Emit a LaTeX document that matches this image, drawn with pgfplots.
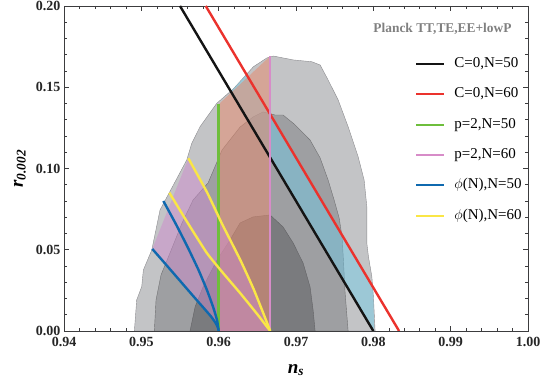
\documentclass[border=0pt]{standalone}
\usepackage{fontspec}
\setmainfont{Liberation Serif}
\usepackage{pgfplots}
\pgfplotsset{compat=1.18}

\definecolor{cOuter}{RGB}{195,196,198}
\definecolor{cMid}{RGB}{158,159,162}
\definecolor{cIn}{RGB}{122,123,126}
\definecolor{cEdge}{RGB}{140,140,143}
\definecolor{cSalmon}{RGB}{228,140,113}
\definecolor{cCyan}{RGB}{110,205,235}
\definecolor{cPurple}{RGB}{205,140,205}
\definecolor{lBlack}{RGB}{20,20,20}
\definecolor{lRed}{RGB}{235,50,45}
\definecolor{lGreen}{RGB}{110,190,60}
\definecolor{lPink}{RGB}{215,140,200}
\definecolor{lBlue}{RGB}{15,105,175}
\definecolor{lYellow}{RGB}{250,230,70}
\definecolor{cAxis}{RGB}{60,60,62}

\begin{document}
\begin{tikzpicture}
\begin{axis}[
  width=464pt, height=325pt, scale only axis,
  xmin=0.94, xmax=1.0, ymin=0, ymax=0.2,
  xtick={0.94,0.95,0.96,0.97,0.98,0.99,1.0},
  xticklabels={\textbf{0.94},\textbf{0.95},\textbf{0.96},\textbf{0.97},\textbf{0.98},\textbf{0.99},\textbf{1.00}},
  ytick={0,0.05,0.1,0.15,0.2},
  yticklabels={\textbf{0.00},\textbf{0.05},\textbf{0.10},\textbf{0.15},\textbf{0.20}},
  minor x tick num=4, minor y tick num=4,
  tick align=inside, major tick length=5pt, minor tick length=3pt,
  axis line style={draw=cAxis, line width=0.8pt},
  tick style={cAxis, line width=0.6pt},
  tick label style={font=\fontsize{14}{15}\selectfont\bfseries, text=black!85},
  xticklabel style={yshift=-2.5pt},
  yticklabel style={xshift=0pt},
  /pgf/number format/assume math mode=true,
  xlabel={\fontsize{19}{20}\selectfont\bfseries\itshape n\textsubscript{s}},
  ylabel={\fontsize{19}{20}\selectfont\bfseries\itshape r\textsubscript{0.002}},
  xlabel style={at={(axis description cs:0.5,-0.12)}, anchor=center},
  ylabel style={at={(axis description cs:-0.095,0.5)}, anchor=center},
  legend cell align=left,
  legend image code/.code={\draw[#1, line width=2pt] (0pt,0pt) -- (28pt,0pt); \path (37pt,0pt);},
  legend style={draw=none, fill=none, at={(rel axis cs:0.7565,0.843)}, anchor=north west,
    font=\fontsize{15}{15}\selectfont, inner sep=0pt, row sep=17.4pt,
    nodes={inner sep=0pt, text height=10pt, text depth=3pt}},
]
% contours
\addplot[fill=cOuter, draw=cEdge, line width=0.4pt, forget plot] coordinates {
(0.94910,0) (0.94940,0.0191) (0.95005,0.0273) (0.95026,0.0375) (0.95135,0.0498)
(0.95242,0.0745) (0.95414,0.0898) (0.95587,0.1052) (0.95652,0.1155) (0.95759,0.1257)
(0.95975,0.1401) (0.96190,0.1490) (0.96449,0.1626) (0.96622,0.1680) (0.96708,0.1692)
(0.96966,0.1668) (0.97204,0.1657) (0.97312,0.1637) (0.97415,0.1545) (0.97545,0.1422)
(0.97674,0.1257) (0.97803,0.1073) (0.97881,0.0929) (0.97916,0.0765) (0.97916,0.0540)
(0.97937,0.0457) (0.97981,0.0334) (0.98001,0.0211) (0.98023,0) (0.94910,0)};
\addplot[fill=cMid, draw=cEdge!80!black, line width=0.4pt, forget plot] coordinates {
(0.95168,0) (0.95190,0.0191) (0.95255,0.0345) (0.95397,0.0511) (0.95527,0.0665)
(0.95669,0.0806) (0.95863,0.0911) (0.96044,0.1114) (0.96277,0.1255) (0.96445,0.1317)
(0.96574,0.1348) (0.96730,0.1329) (0.96833,0.1329) (0.96975,0.1274) (0.97182,0.1175)
(0.97312,0.1065) (0.97415,0.0929) (0.97493,0.0806) (0.97558,0.0695) (0.97596,0.0578)
(0.97613,0.0437) (0.97635,0.0234) (0.97674,0) (0.95168,0)};
\addplot[fill=cIn, draw=cIn!80!black, line width=0.4pt, forget plot] coordinates {
(0.95630,0) (0.95695,0.0148) (0.95798,0.0271) (0.95979,0.0437) (0.96147,0.0560)
(0.96277,0.0665) (0.96445,0.0702) (0.96665,0.0714) (0.96833,0.0640) (0.96963,0.0542)
(0.97092,0.0418) (0.97182,0.0271) (0.97221,0.0129) (0.97247,0) (0.95630,0)};
% shaded model regions
\addplot[fill=cCyan, fill opacity=0.45, draw=none, forget plot] coordinates {
(0.96155,0.1476) (0.96190,0.1490) (0.96360,0.1579) (0.97993,0.0272) (0.98001,0.0211)
(0.98010,0) (0.98,0) (0.96155,0.1476)};
\addplot[fill=cSalmon, fill opacity=0.55, draw=none, forget plot] coordinates {
(0.96,0) (0.96,0.1395) (0.96667,0.1692) (0.96667,0) (0.96,0)};
\addplot[fill=cPurple, fill opacity=0.5, draw=none, forget plot] coordinates {
(0.95142,0.0505) (0.95608,0.1063) (0.9585,0.0853) (0.9604,0.0663) (0.9628,0.0437)
(0.9645,0.0260) (0.9656,0.0130) (0.9663,0.0045) (0.96667,0) (0.96,0)
(0.9599,0.0022) (0.9596,0.0050) (0.9590,0.0090) (0.9580,0.0145) (0.9568,0.0210)
(0.9550,0.0309) (0.9532,0.0408) (0.95142,0.0505)};
% lines
\addplot[lBlack, line width=2.4pt] coordinates {(0.955,0.2) (0.98,0)};
\addlegendentry{C=0,N=50}
\addplot[lRed, line width=2.4pt] coordinates {(0.95833,0.2) (0.98333,0)};
\addlegendentry{C=0,N=60}
\addplot[lGreen, line width=2.4pt] coordinates {(0.96,0) (0.96,0.1395)};
\addlegendentry{p=2,N=50}
\addplot[lPink, line width=2.4pt] coordinates {(0.96667,0) (0.96667,0.1692)};
\addlegendentry{p=2,N=60}
\addplot[lBlue, line width=2.4pt, smooth, tension=0.3] coordinates {
(0.95142,0.0505) (0.9532,0.0408) (0.9550,0.0309) (0.9568,0.0210) (0.9580,0.0145)
(0.9590,0.0090) (0.9596,0.0050) (0.9599,0.0022) (0.9600,0)};
\addlegendentry{$\phi$(N),N=50}
\addplot[lBlue, line width=2.4pt, smooth, tension=0.3, forget plot] coordinates {
(0.95285,0.0800) (0.9545,0.0655) (0.9560,0.0515) (0.9574,0.0375) (0.9585,0.0250)
(0.9593,0.0145) (0.9598,0.0065) (0.9600,0)};
\addplot[lYellow, line width=2.4pt, smooth, tension=0.3] coordinates {
(0.95608,0.1063) (0.9585,0.0853) (0.9604,0.0663) (0.9628,0.0437) (0.9645,0.0260)
(0.9656,0.0130) (0.9663,0.0045) (0.96667,0)};
\addlegendentry{$\phi$(N),N=60}
\addplot[lYellow, line width=2.4pt, smooth, tension=0.3, forget plot] coordinates {
(0.95362,0.0851) (0.9560,0.0665) (0.9585,0.0478) (0.9606,0.0355) (0.9628,0.0232)
(0.9649,0.0109) (0.9661,0.0035) (0.96667,0)};
\node[font=\fontsize{13.4}{14}\selectfont\bfseries, text=black!50] at (rel axis cs:0.8157,0.929) {Planck TT,TE,EE+lowP};
\end{axis}
\pgfresetboundingbox
\path ([shift={(-64pt,-56pt)}]current axis.south west) rectangle ([shift={(18pt,6pt)}]current axis.north east);
\end{tikzpicture}
\end{document}
